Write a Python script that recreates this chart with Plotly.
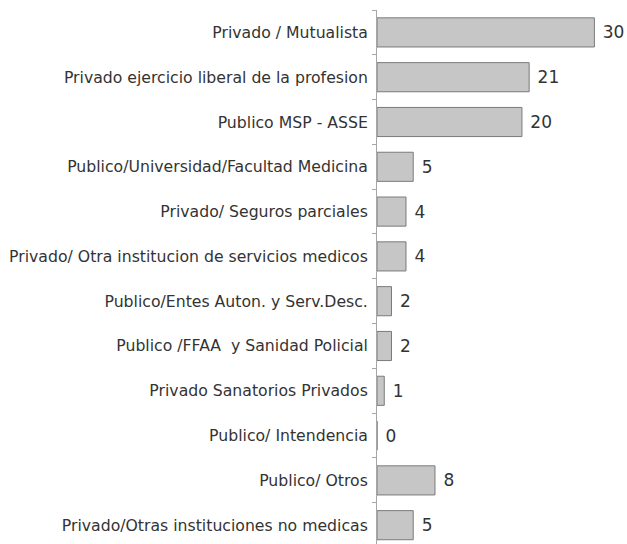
import plotly.graph_objects as go

categories = [
    "Privado / Mutualista",
    "Privado ejercicio liberal de la profesion",
    "Publico MSP - ASSE",
    "Publico/Universidad/Facultad Medicina",
    "Privado/ Seguros parciales",
    "Privado/ Otra institucion de servicios medicos",
    "Publico/Entes Auton. y Serv.Desc.",
    "Publico /FFAA  y Sanidad Policial",
    "Privado Sanatorios Privados",
    "Publico/ Intendencia",
    "Publico/ Otros",
    "Privado/Otras instituciones no medicas",
]
values = [30, 21, 20, 5, 4, 4, 2, 2, 1, 0, 8, 5]

fig = go.Figure(
    go.Bar(
        y=categories,
        x=values,
        orientation="h",
        marker=dict(color="#c6c6c6", line=dict(color="#7a7a7a", width=1)),
        text=[" " + str(v) for v in values],
        textposition="outside",
        constraintext="none",
        textfont=dict(family="DejaVu Sans", size=17, color="#333333"),
        cliponaxis=False,
    )
)

fig.update_layout(
    width=627,
    height=544,
    margin=dict(l=377, r=0, t=10, b=0),
    paper_bgcolor="white",
    plot_bgcolor="white",
    bargap=0.35,
    showlegend=False,
    font=dict(family="DejaVu Sans", size=14, color="#333333"),
)
fig.update_xaxes(
    range=[0, 34.5],
    visible=False,
    showgrid=False,
    zeroline=False,
)
fig.update_yaxes(
    type="category",
    range=[11.42, -0.5],
    showline=True,
    linecolor="#a6a6a6",
    linewidth=1,
    ticks="outside",
    tickson="boundaries",
    ticklen=4,
    tickcolor="#a6a6a6",
    showgrid=False,
    automargin=False,
    ticklabelstandoff=5,
    tickfont=dict(family="DejaVu Sans", size=15.7, color="#333333"),
)

fig.write_html(
    "out.html",
    config={"displayModeBar": False},
    post_script="document.body.style.margin='0';document.body.style.overflow='hidden';",
)
